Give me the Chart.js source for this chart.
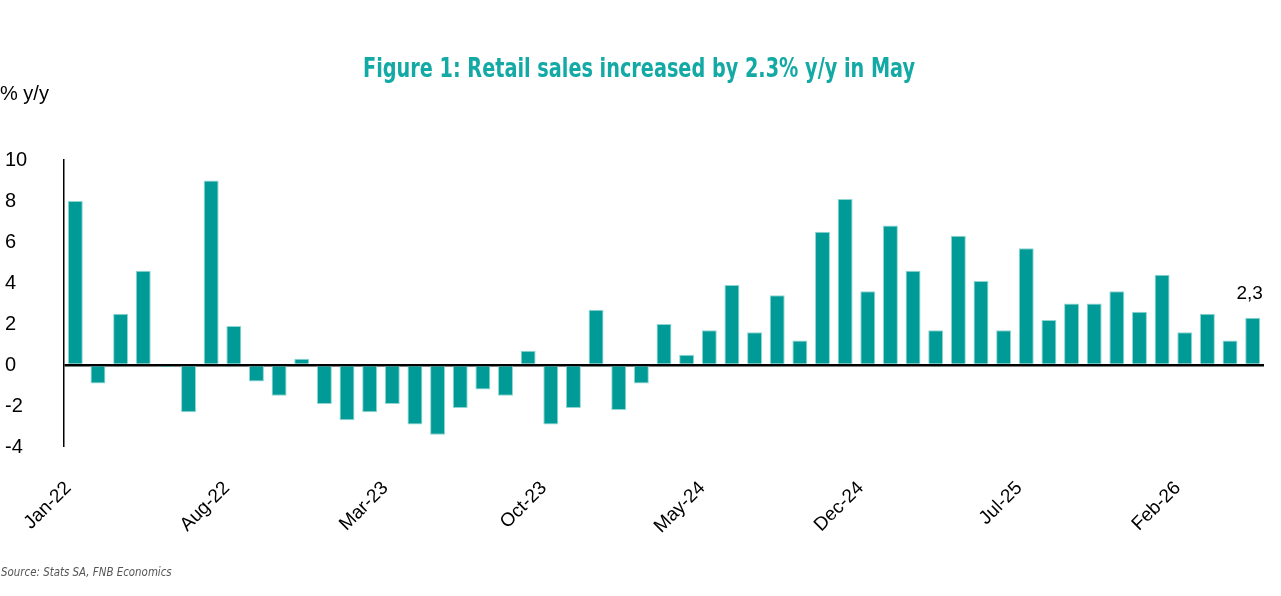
<!DOCTYPE html>
<html>
<head>
<meta charset="utf-8">
<script src="https://cdn.jsdelivr.net/npm/chart.js@4.4.1/dist/chart.umd.min.js"></script>
<style>
  body { margin: 0; background: #fff; }
  #wrap { position: relative; width: 1281px; height: 596px; }
</style>
</head>
<body>
<div id="wrap"><canvas id="chart" width="1281" height="596"></canvas></div>
<script>
// monthly retail sales, % y/y
var months = [
  "Jan-22","Feb-22","Mar-22","Apr-22","May-22","Jun-22","Jul-22","Aug-22","Sep-22","Oct-22","Nov-22","Dec-22",
  "Jan-23","Feb-23","Mar-23","Apr-23","May-23","Jun-23","Jul-23","Aug-23","Sep-23","Oct-23","Nov-23","Dec-23",
  "Jan-24","Feb-24","Mar-24","Apr-24","May-24","Jun-24","Jul-24","Aug-24","Sep-24","Oct-24","Nov-24","Dec-24",
  "Jan-25","Feb-25","Mar-25","Apr-25","May-25","Jun-25","Jul-25","Aug-25","Sep-25","Oct-25","Nov-25","Dec-25",
  "Jan-26","Feb-26","Mar-26","Apr-26","May-26"
];
var retailSales = [
  8.0, -0.9, 2.5, 4.6, -0.1, -2.3, 9.0, 1.9, -0.8, -1.5, 0.3, -1.9,
  -2.7, -2.3, -1.9, -2.9, -3.4, -2.1, -1.2, -1.5, 0.7, -2.9, -2.1, 2.7,
  -2.2, -0.9, 2.0, 0.5, 1.7, 3.9, 1.6, 3.4, 1.2, 6.5, 8.1, 3.6,
  6.8, 4.6, 1.7, 6.3, 4.1, 1.7, 5.7, 2.2, 3.0, 3.0, 3.6, 2.6,
  4.4, 1.6, 2.5, 1.2, 2.3
];
var yTicks = [-4, -2, 0, 2, 4, 6, 8, 10];
var labelEvery = 7;
var lastLabel = "2,3";
var titleText = "Figure 1: Retail sales increased by 2.3% y/y in May";
var sourceText = "Source: Stats SA, FNB Economics";

var teal = '#009a97';

var extraText = {
  id: 'extraText',
  afterDraw: function(chart){
    var ctx = chart.ctx;
    ctx.save();

    // title, squeezed a bit to look like a condensed face
    ctx.fillStyle = '#13a9a5';
    ctx.font = 'bold 26px "DejaVu Sans Condensed", "Liberation Sans", sans-serif';
    ctx.textBaseline = 'alphabetic';
    ctx.textAlign = 'left';
    var w = ctx.measureText(titleText).width;
    var sx = 552 / w;
    ctx.save();
    ctx.translate(363, 77);
    ctx.scale(sx, 1);
    ctx.fillText(titleText, 0, 0);
    ctx.restore();

    ctx.fillStyle = '#000';
    ctx.font = '20px "Liberation Sans", Arial, sans-serif';
    ctx.textAlign = 'left';
    ctx.textBaseline = 'middle';
    ctx.fillText('% y/y', 0, 94);

    // value on the last bar
    var meta = chart.getDatasetMeta(0);
    var bar = meta.data[meta.data.length - 1];
    ctx.font = '19px "Liberation Sans", Arial, sans-serif';
    ctx.textAlign = 'center';
    ctx.textBaseline = 'bottom';
    ctx.fillText(lastLabel, bar.x - 3, bar.y - 15);

    ctx.fillStyle = '#555';
    ctx.font = 'italic 12px "DejaVu Sans Condensed", sans-serif';
    ctx.textAlign = 'left';
    ctx.textBaseline = 'middle';
    ctx.save();
    ctx.translate(1, 573);
    ctx.scale(0.95, 1);
    ctx.fillText(sourceText, 0, 0);
    ctx.restore();
    ctx.restore();
  }
};

var ctx = document.getElementById('chart').getContext('2d');
var myChart = new Chart(ctx, {
  type: 'bar',
  data: {
    labels: months,
    datasets: [{
      label: 'Retail sales',
      data: retailSales,
      backgroundColor: teal,
      borderColor: '#8fd6d2',
      borderWidth: 1,
      categoryPercentage: 1,
      barPercentage: 0.66
    }]
  },
  options: {
    responsive: false,
    animation: false,
    devicePixelRatio: 1,
    layout: { padding: { left: 5, right: 17, top: 160, bottom: 0 } },
    plugins: {
      legend: { display: false },
      tooltip: { enabled: false },
      title: { display: false }
    },
    scales: {
      x: {
        grid: { display: false, drawTicks: false },
        border: { display: false },
        afterFit: function(scale){
          scale.height = 149;
          scale.paddingLeft = 0;
          scale.paddingRight = 0;
        },
        ticks: {
          autoSkip: false,
          maxRotation: 45,
          minRotation: 45,
          padding: 30,
          labelOffset: -7,
          color: '#000',
          font: { family: '"Liberation Sans", Arial, sans-serif', size: 19 },
          callback: function(value, index){
            return index % labelEvery === 0 ? months[index] : '';
          }
        }
      },
      y: {
        min: yTicks[0],
        max: yTicks[yTicks.length - 1],
        afterFit: function(scale){
          scale.width = 59;
          scale.paddingTop = 0;
          scale.paddingBottom = 0;
        },
        afterBuildTicks: function(scale){
          scale.ticks = yTicks.map(function(v){ return { value: v }; });
        },
        border: { display: true, color: '#000', width: 1.5 },
        grid: {
          drawTicks: false,
          color: function(c){ return c.tick && c.tick.value === 0 ? '#000' : 'rgba(0,0,0,0)'; },
          lineWidth: function(c){ return c.tick && c.tick.value === 0 ? 2.5 : 0; }
        },
        ticks: {
          crossAlign: 'far',
          padding: 0,
          color: '#000',
          font: { family: '"Liberation Sans", Arial, sans-serif', size: 20 }
        }
      }
    }
  },
  plugins: [extraText]
});
</script>
</body>
</html>
